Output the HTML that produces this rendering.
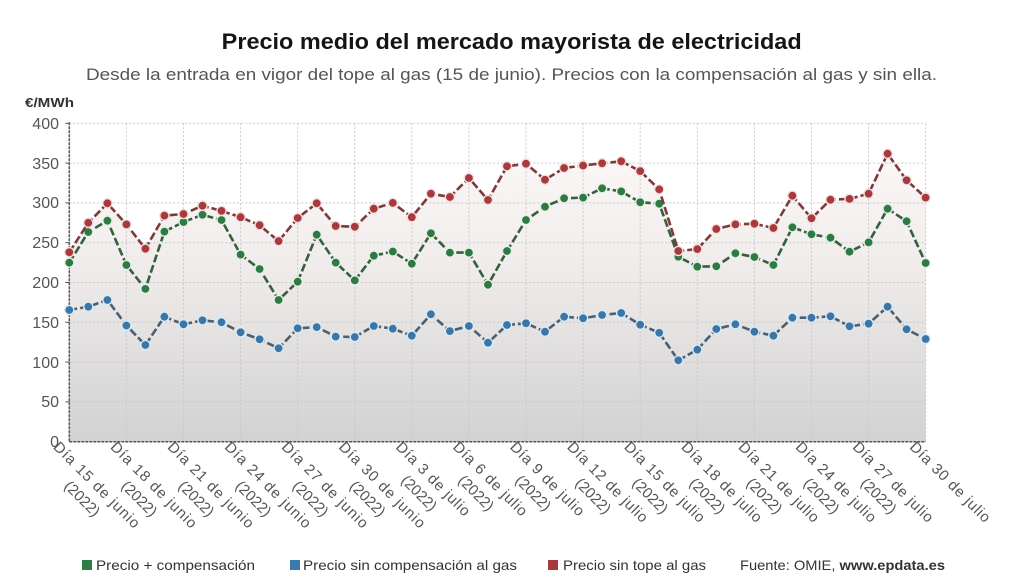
<!DOCTYPE html>
<html><head><meta charset="utf-8">
<style>
html,body{margin:0;padding:0;background:#fff;}
body{width:1027px;height:578px;overflow:hidden;}
svg{display:block;font-family:"Liberation Sans",sans-serif;}
</style></head>
<body>
<svg id="c" width="1027" height="578" viewBox="0 0 1027 578" xmlns="http://www.w3.org/2000/svg">
<defs>
<linearGradient id="ag" x1="0" y1="123" x2="0" y2="442" gradientUnits="userSpaceOnUse">
<stop offset="0" stop-color="#fdfafa"/>
<stop offset="0.4" stop-color="#f2eeed"/>
<stop offset="1" stop-color="#d2d2d2"/>
</linearGradient>
</defs>
<text x="511.7" y="49" text-anchor="middle" font-size="22" font-weight="bold" fill="#151515" textLength="580" lengthAdjust="spacingAndGlyphs">Precio medio del mercado mayorista de electricidad</text>
<text x="86" y="80" font-size="17" fill="#555" textLength="851" lengthAdjust="spacingAndGlyphs">Desde la entrada en vigor del tope al gas (15 de junio). Precios con la compensación al gas y sin ella.</text>
<text x="25" y="107" font-size="13" font-weight="bold" fill="#333" textLength="49" lengthAdjust="spacingAndGlyphs">€/MWh</text>
<g id="area"></g>
<g id="grid"></g>
<g font-size="16" fill="#555" text-anchor="end">
<text x="59" y="129">400</text>
<text x="59" y="169">350</text>
<text x="59" y="208">300</text>
<text x="59" y="248">250</text>
<text x="59" y="288">200</text>
<text x="59" y="328">150</text>
<text x="59" y="368">100</text>
<text x="59" y="407">50</text>
<text x="59" y="447">0</text>
</g>
<g id="series"></g>
<g font-size="15" fill="#555">
<g transform="translate(60.3,440) rotate(45)"><text x="0" y="11" textLength="115" lengthAdjust="spacing">Día 15 de junio</text><text x="57" y="31" text-anchor="middle">(2022)</text></g>
<g transform="translate(117.4,440) rotate(45)"><text x="0" y="11" textLength="115" lengthAdjust="spacing">Día 18 de junio</text><text x="57" y="31" text-anchor="middle">(2022)</text></g>
<g transform="translate(174.5,440) rotate(45)"><text x="0" y="11" textLength="115" lengthAdjust="spacing">Día 21 de junio</text><text x="57" y="31" text-anchor="middle">(2022)</text></g>
<g transform="translate(231.6,440) rotate(45)"><text x="0" y="11" textLength="115" lengthAdjust="spacing">Día 24 de junio</text><text x="57" y="31" text-anchor="middle">(2022)</text></g>
<g transform="translate(288.7,440) rotate(45)"><text x="0" y="11" textLength="115" lengthAdjust="spacing">Día 27 de junio</text><text x="57" y="31" text-anchor="middle">(2022)</text></g>
<g transform="translate(345.8,440) rotate(45)"><text x="0" y="11" textLength="115" lengthAdjust="spacing">Día 30 de junio</text><text x="57" y="31" text-anchor="middle">(2022)</text></g>
<g transform="translate(402.8,440) rotate(45)"><text x="0" y="11" textLength="98" lengthAdjust="spacing">Día 3 de julio</text><text x="49" y="31" text-anchor="middle">(2022)</text></g>
<g transform="translate(459.9,440) rotate(45)"><text x="0" y="11" textLength="98" lengthAdjust="spacing">Día 6 de julio</text><text x="49" y="31" text-anchor="middle">(2022)</text></g>
<g transform="translate(517,440) rotate(45)"><text x="0" y="11" textLength="98" lengthAdjust="spacing">Día 9 de julio</text><text x="49" y="31" text-anchor="middle">(2022)</text></g>
<g transform="translate(574.1,440) rotate(45)"><text x="0" y="11" textLength="107" lengthAdjust="spacing">Día 12 de julio</text><text x="53" y="31" text-anchor="middle">(2022)</text></g>
<g transform="translate(631.2,440) rotate(45)"><text x="0" y="11" textLength="107" lengthAdjust="spacing">Día 15 de julio</text><text x="53" y="31" text-anchor="middle">(2022)</text></g>
<g transform="translate(688.3,440) rotate(45)"><text x="0" y="11" textLength="107" lengthAdjust="spacing">Día 18 de julio</text><text x="53" y="31" text-anchor="middle">(2022)</text></g>
<g transform="translate(745.4,440) rotate(45)"><text x="0" y="11" textLength="107" lengthAdjust="spacing">Día 21 de julio</text><text x="53" y="31" text-anchor="middle">(2022)</text></g>
<g transform="translate(802.5,440) rotate(45)"><text x="0" y="11" textLength="107" lengthAdjust="spacing">Día 24 de julio</text><text x="53" y="31" text-anchor="middle">(2022)</text></g>
<g transform="translate(859.6,440) rotate(45)"><text x="0" y="11" textLength="107" lengthAdjust="spacing">Día 27 de julio</text><text x="53" y="31" text-anchor="middle">(2022)</text></g>
<g transform="translate(916.7,440) rotate(45)"><text x="0" y="11" textLength="107" lengthAdjust="spacing">Día 30 de julio</text></g>
</g>
<g font-size="14" fill="#333">
<rect x="82" y="560" width="10" height="10" fill="#2e7d45"/>
<text x="96" y="570" textLength="159" lengthAdjust="spacingAndGlyphs">Precio + compensación</text>
<rect x="290" y="560" width="10" height="10" fill="#3a7ab0"/>
<text x="303" y="570" textLength="214" lengthAdjust="spacingAndGlyphs">Precio sin compensación al gas</text>
<rect x="548" y="560" width="10" height="10" fill="#a83a3e"/>
<text x="563" y="570" textLength="143" lengthAdjust="spacingAndGlyphs">Precio sin tope al gas</text>
<text x="740" y="570" textLength="205" lengthAdjust="spacingAndGlyphs">Fuente: OMIE, <tspan font-weight="bold">www.epdata.es</tspan></text>
</g>
</svg>
<script>
(function(){
var NS="http://www.w3.org/2000/svg";
var X0=69.3,DX=19.03,Y0=441.7,SY=0.796;
function px(i){return X0+i*DX;}
function py(v){return Y0-v*SY;}
var red=[238,275,299.5,273,242.5,284,286,296.5,290,282,272,252,281,299.5,271,270,292.7,300,282,311.6,307.4,331.3,303.6,346,349.3,329,343.8,347,349.7,352.2,340,317,239.6,242,267.2,273,273.9,268.5,309,280.6,304,305,311.6,361.8,328.4,306.6];
var green=[225,263.5,277.6,222,192,264,276,285,278.5,235,217,178,201,260,225,202.7,233.7,239,223.6,261.8,237.5,237.5,197.2,239.6,278.5,295.2,305.8,306.6,318.3,314.5,300.7,299,232.4,219.8,220.3,236.7,232,222,269.3,260.5,256.3,238.7,250.4,292.7,276.9,224.5];
var blue=[165.5,169.6,178,146,121.5,157,147.5,152.5,150,137.4,128.6,117.3,142.4,144,132,131.5,145.4,142,133.2,160,139,145.4,124.4,146.6,148.7,138.2,157,155,159.2,161.7,147,136.8,102.2,115.6,141.6,147.5,138.2,133.2,155.8,155.8,157.5,145,148.3,169.6,141.2,129];
function el(tag,attrs,parent){var e=document.createElementNS(NS,tag);for(var k in attrs)e.setAttribute(k,attrs[k]);parent.appendChild(e);return e;}
var area=document.getElementById('area');
var d="M"+px(0)+","+Y0;
for(var i=0;i<red.length;i++)d+=" L"+px(i).toFixed(1)+","+py(red[i]).toFixed(1);
d+=" L"+px(45)+","+Y0+" Z";
el('path',{d:d,fill:"url(#ag)"},area);
var grid=document.getElementById('grid');
for(var v=50;v<=400;v+=50){
  el('line',{x1:X0,x2:px(45),y1:py(v),y2:py(v),stroke:"#c8c8c8","stroke-width":1,"stroke-dasharray":"2 2"},grid);
  el('line',{x1:X0-4,x2:X0,y1:py(v),y2:py(v),stroke:"#555","stroke-width":1},grid);
}
for(var i=3;i<=45;i+=3){
  el('line',{x1:px(i),x2:px(i),y1:py(400),y2:Y0,stroke:"#c8c8c8","stroke-width":1,"stroke-dasharray":"2 2"},grid);
}
el('line',{x1:X0,x2:X0,y1:py(400)-1,y2:Y0,stroke:"#555","stroke-width":1.5,"stroke-dasharray":"3 1"},grid);
el('line',{x1:X0,x2:px(45),y1:Y0,y2:Y0,stroke:"#555","stroke-width":1.5,"stroke-dasharray":"3 1"},grid);
var s=document.getElementById('series');
function series(data,lc,mc,oc){
  var p="";
  for(var i=0;i<data.length;i++)p+=(i?" L":"M")+px(i).toFixed(1)+","+py(data[i]).toFixed(1);
  el('path',{d:p,fill:"none",stroke:lc,"stroke-width":2.6,"stroke-dasharray":"8 3","stroke-linejoin":"round"},s);
  for(var i=0;i<data.length;i++)el('circle',{cx:px(i).toFixed(1),cy:py(data[i]).toFixed(1),r:4.6,fill:mc,stroke:oc,"stroke-width":1.4},s);
}
series(blue,"#4a5f72","#3d76a6","#d6ecf7");
series(green,"#355f3d","#2f7a42","#e6f0e6");
series(red,"#7e3a3a","#a8393c","#f3e0e0");
})();
</script>
</body></html>
